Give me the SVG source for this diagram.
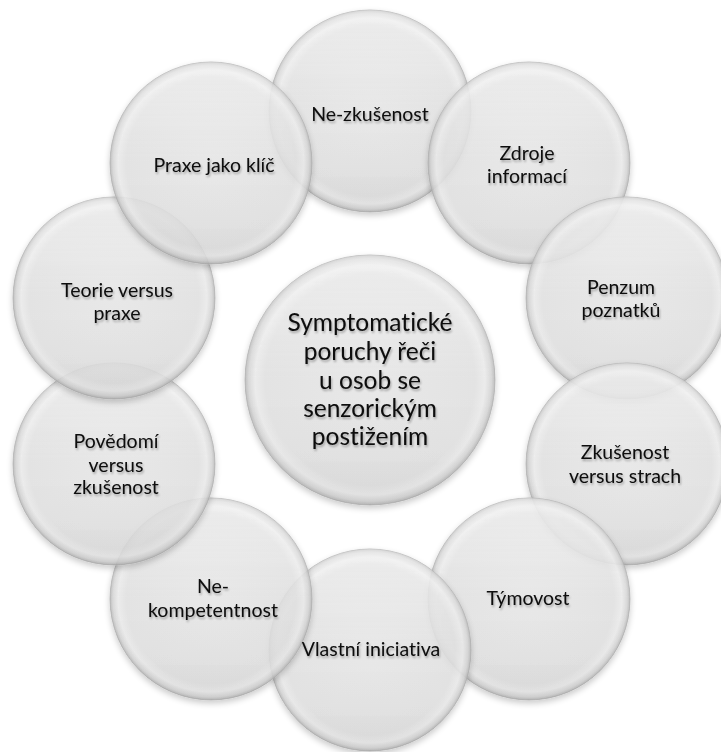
<svg xmlns="http://www.w3.org/2000/svg" width="721" height="752" viewBox="0 0 721 752">
<defs>
<radialGradient id="fillG" cx="50%" cy="50%" r="50%">
<stop offset="0%" stop-color="#e9e9e9"/>
<stop offset="84%" stop-color="#e3e3e3"/>
<stop offset="92%" stop-color="#ededed"/>
<stop offset="97%" stop-color="#d6d6d6"/>
<stop offset="100%" stop-color="#b4b4b4"/>
</radialGradient>
<linearGradient id="shadeG" x1="0" y1="0" x2="0" y2="1">
<stop offset="0%" stop-color="#ffffff" stop-opacity="0.35"/>
<stop offset="50%" stop-color="#ffffff" stop-opacity="0"/>
<stop offset="100%" stop-color="#000000" stop-opacity="0.05"/>
</linearGradient>
<filter id="drop" x="-20%" y="-20%" width="140%" height="140%">
<feGaussianBlur in="SourceAlpha" stdDeviation="3"/>
<feOffset dx="0" dy="3" result="b"/>
<feComponentTransfer><feFuncA type="linear" slope="0.25"/></feComponentTransfer>
<feMerge><feMergeNode/><feMergeNode in="SourceGraphic"/></feMerge>
</filter>
<filter id="tshadow" x="-10%" y="-20%" width="120%" height="150%">
<feGaussianBlur in="SourceAlpha" stdDeviation="1.2"/>
<feOffset dx="0.5" dy="1.5"/>
<feComponentTransfer><feFuncA type="linear" slope="0.3"/></feComponentTransfer>
<feMerge><feMergeNode/><feMergeNode in="SourceGraphic"/></feMerge>
</filter>
</defs>
<style>
.c { fill: url(#fillG); fill-opacity: 0.82; stroke: #a8a8a8; stroke-width: 0.8; stroke-opacity: 0.8; }
.h { fill: url(#shadeG); }
.t { font-family: "Lato", "Liberation Sans", sans-serif; font-size: 19.5px; fill: #0a0a0a; text-anchor: middle; font-variant-ligatures: none; }
.tc { font-family: "Lato", "Liberation Sans", sans-serif; font-size: 24.5px; fill: #0a0a0a; text-anchor: middle; font-variant-ligatures: none; }
</style>
<rect width="721" height="752" fill="#ffffff"/>
<g id="center" filter="url(#drop)">
<circle class="c" cx="370" cy="380" r="125"/>
<circle class="h" cx="370" cy="380" r="125"/>
</g>
<g id="n1" filter="url(#drop)"><circle class="c" cx="370" cy="111" r="101"/><circle class="h" cx="370" cy="111" r="101"/></g>
<g id="n2" filter="url(#drop)"><circle class="c" cx="529" cy="163" r="101"/><circle class="h" cx="529" cy="163" r="101"/></g>
<g id="n3" filter="url(#drop)"><circle class="c" cx="627" cy="298" r="101"/><circle class="h" cx="627" cy="298" r="101"/></g>
<g id="n4" filter="url(#drop)"><circle class="c" cx="627" cy="464" r="101"/><circle class="h" cx="627" cy="464" r="101"/></g>
<g id="n5" filter="url(#drop)"><circle class="c" cx="529" cy="599" r="101"/><circle class="h" cx="529" cy="599" r="101"/></g>
<g id="n6" filter="url(#drop)"><circle class="c" cx="370" cy="650" r="101"/><circle class="h" cx="370" cy="650" r="101"/></g>
<g id="n7" filter="url(#drop)"><circle class="c" cx="211" cy="599" r="101"/><circle class="h" cx="211" cy="599" r="101"/></g>
<g id="n8" filter="url(#drop)"><circle class="c" cx="114" cy="464" r="101"/><circle class="h" cx="114" cy="464" r="101"/></g>
<g id="n9" filter="url(#drop)"><circle class="c" cx="114" cy="298" r="101"/><circle class="h" cx="114" cy="298" r="101"/></g>
<g id="n10" filter="url(#drop)"><circle class="c" cx="211" cy="163" r="101"/><circle class="h" cx="211" cy="163" r="101"/></g>
<g id="labels" filter="url(#tshadow)">
<text class="tc" x="370"><tspan x="370" y="331">Symptomatické</tspan><tspan x="370" y="360">poruchy řeči</tspan><tspan x="370" y="389">u osob se</tspan><tspan x="370" y="417">senzorickým</tspan><tspan x="370" y="445">postižením</tspan></text>
<text class="t" x="370" y="121">Ne-zkušenost</text>
<text class="t"><tspan x="527" y="160">Zdroje</tspan><tspan x="527" y="183">informací</tspan></text>
<text class="t"><tspan x="621" y="294">Penzum</tspan><tspan x="621" y="317">poznatků</tspan></text>
<text class="t"><tspan x="625" y="459">Zkušenost</tspan><tspan x="625" y="483">versus strach</tspan></text>
<text class="t" x="528" y="605">Týmovost</text>
<text class="t" x="371" y="656">Vlastní iniciativa</text>
<text class="t"><tspan x="213" y="593">Ne-</tspan><tspan x="213" y="617">kompetentnost</tspan></text>
<text class="t"><tspan x="116" y="448">Povědomí</tspan><tspan x="116" y="472">versus</tspan><tspan x="116" y="494">zkušenost</tspan></text>
<text class="t"><tspan x="117" y="297">Teorie versus</tspan><tspan x="117" y="320">praxe</tspan></text>
<text class="t" x="214" y="172">Praxe jako klíč</text>
</g>
</svg>
